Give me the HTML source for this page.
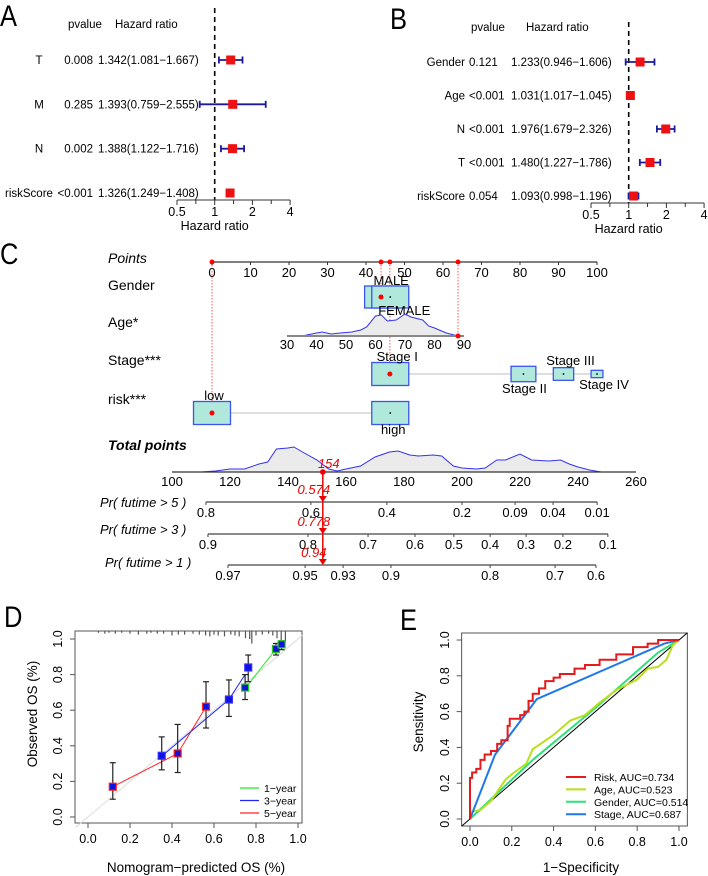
<!DOCTYPE html>
<html><head><meta charset="utf-8"><style>
html,body{margin:0;padding:0;background:#fff;}
svg{display:block;font-family:"Liberation Sans",sans-serif;}
</style></head><body>
<svg id="fig" width="708" height="876" viewBox="0 0 708 876" xmlns="http://www.w3.org/2000/svg"></svg>
<script>
// ---------- DATA ----------
const forestAVars=['T','M','N','riskScore'];
const forestAP=['0.008','0.285','0.002','<0.001'];
const forestAHR=[1.342,1.393,1.388,1.326];
const forestALo=[1.081,0.759,1.122,1.249];
const forestAHi=[1.667,2.555,1.716,1.408];
const forestBVars=['Gender','Age','N','T','riskScore'];
const forestBP=['0.121','<0.001','<0.001','<0.001','0.054'];
const forestBHR=[1.233,1.031,1.976,1.480,1.093];
const forestBLo=[0.946,1.017,1.679,1.227,0.998];
const forestBHi=[1.606,1.045,2.326,1.786,1.196];
const forestTicks=[0.5,1,2,4];
const forestMinor=[0.707,1.414,2.828];

const pointsTicks=[0,10,20,30,40,50,60,70,80,90,100];
const genderLevels=['MALE','FEMALE'];
const genderPoints=[44.2,46.3];
const genderFreq=[0.95,1];
const ageTicks=[30,40,50,60,70,80,90];
const ageDensAge=[30,35,40,42,45,48,52,55,57,60,62,64,67,70,72,76,78,80,84,88];
const ageDensH=[0,0,3,4,2,3,4,6,9,20,21,15,16,22,19,16,10,8,3,0];
const stageLevels=['Stage I','Stage II','Stage III','Stage IV'];
const stagePoints=[46.3,80.9,91.3,100];
const stageFreq=[1,0.67,0.55,0.32];
const riskLevels=['low','high'];
const riskPoints=[0,46.3];
const riskFreq=[1,1];
const selectedPoints=[0,43.9,46.2,63.9];
const totalTicks=[100,120,140,160,180,200,220,240,260];
const totDensX=[110,115,120,125,130,133,136,140,142,145,150,154,157,160,165,170,175,178,182,185,190,193,197,200,205,208,212,215,220,224,230,234,237,240,244,248];
const totDensH=[0,1,3,3,8,10,23,24,25,20,12,3,1,3,6,15,20,21,17,16,17,16,6,4,3,4,12,12,18,12,11,12,8,5,2,0];
const totalScore=152;
const totalLabel='154';
const pr5Labels=['0.8','0.6','0.4','0.2','0.09','0.04','0.01'];
const pr5At=[111.7,147.9,174.1,200,218.3,231.4,246.6];
const pr3Labels=['0.9','0.8','0.7','0.6','0.5','0.4','0.3','0.2','0.1'];
const pr3At=[112.4,146.9,167.6,183.8,197.2,209.7,222.1,234.8,250.3];
const pr1Labels=['0.97','0.95','0.93','0.9','0.8','0.7','0.6'];
const pr1At=[119.3,145.9,159,175.5,209.7,232.1,246.2];
const prValues=['0.574','0.778','0.94'];

const calPred=[0.118,0.351,0.427,0.562,0.671,0.748,0.763,0.895,0.922];
const calObs=[0.17,0.344,0.357,0.62,0.66,0.727,0.84,0.944,0.97];
const calLo=[0.10,0.265,0.25,0.50,0.565,0.66,0.76,0.91,0.94];
const calHi=[0.305,0.45,0.52,0.76,0.77,0.80,0.91,0.975,0.99];
const calSeries=['5','3','5','5','3','1','3','1','1'];
const line5x=[0.118,0.35,0.427,0.562];
const line5y=[0.17,0.31,0.357,0.62];
const line3x=[0.366,0.671,0.748];
const line3y=[0.357,0.66,0.80];
const line1x=[0.767,0.895,0.922];
const line1y=[0.75,0.944,0.97];
const histPred=[0.05,0.08,0.1,0.13,0.16,0.2,0.24,0.28,0.3,0.33,0.36,0.4,0.43,0.46,0.5,0.53,0.56,0.58,0.6,0.62,0.65,0.68,0.7,0.72,0.75,0.77,0.78,0.8,0.83,0.86,0.88,0.9,0.92,0.94];
const histCount=[2,3,2,3,2,3,4,3,2,3,3,5,4,4,3,4,5,6,4,5,6,4,5,6,8,9,14,5,4,3,5,8,10,12];
const dTicks=[0,0.2,0.4,0.6,0.8,1.0];
const dTickLabels=['0.0','0.2','0.4','0.6','0.8','1.0'];

const riskFPR=[0,0,0.01,0.03,0.05,0.07,0.1,0.13,0.15,0.18,0.19,0.24,0.26,0.28,0.3,0.33,0.36,0.4,0.43,0.5,0.55,0.62,0.7,0.78,0.85,0.9,0.94,1];
const riskTPR=[0,0.17,0.23,0.26,0.28,0.33,0.36,0.38,0.42,0.44,0.52,0.56,0.58,0.6,0.66,0.70,0.73,0.77,0.79,0.81,0.84,0.86,0.89,0.92,0.96,0.98,1,1];
const stageFPR=[0,0.12,0.32,0.93,1];
const stageTPR=[0,0.36,0.67,0.98,1];
const genderFPR=[0,0.3,0.6,0.9,1];
const genderTPR=[0,0.33,0.62,0.93,1];
const ageFPR=[0,0,0.05,0.1,0.17,0.2,0.27,0.3,0.35,0.4,0.48,0.55,0.62,0.7,0.8,0.85,0.9,0.94,0.97,1];
const ageTPR=[0,0.04,0.05,0.1,0.22,0.25,0.31,0.39,0.43,0.47,0.55,0.58,0.65,0.72,0.78,0.84,0.85,0.89,0.97,1];
const rocNames=['Risk, AUC=0.734','Age, AUC=0.523','Gender, AUC=0.514','Stage, AUC=0.687'];
const rocColors=['#e41a1c','#b8e01a','#2ee07a','#1f78e8'];

// ---------- HELPERS ----------
const NS='http://www.w3.org/2000/svg';
const svg=document.getElementById('fig');
function mk(tag,parent){const e=document.createElementNS(NS,tag);(parent||svg).appendChild(e);return e;}
function at(e,o){for(const k in o)e.setAttribute(k,o[k]);return e;}
function tx(parent,x,y,s,o){const e=mk('text',parent);at(e,Object.assign({x:x,y:y},o||{}));e.textContent=s;return e;}
function ln(parent,x1,y1,x2,y2,o){const e=mk('line',parent);at(e,Object.assign({x1:x1,y1:y1,x2:x2,y2:y2},o||{}));return e;}
function grp(parent){return mk('g',parent);}

// ---------- PANEL LETTERS ----------
[['A',0,26],['B',390,29],['C',0,264],['D',4,627],['E',400,630]].forEach(function(p){
  const t=tx(svg,p[1],p[2],p[0],{'font-size':30,transform:'translate('+p[1]+',0) scale(0.85,1) translate('+(-p[1])+',0)'});
  
  
});

// ---------- FOREST PLOTS ----------
function forest(name,cfg){
  const g=grp();
  
  
  const xs=function(v){return cfg.x0+Math.log2(v/0.5)*cfg.unit;};
  const h1=tx(g,cfg.pHeadX,cfg.headY,'pvalue',{'font-size':11.5});
  
  
  const h2=tx(g,cfg.hrHeadX,cfg.headY,'Hazard ratio',{'font-size':11.5});
  
  
  const rl=ln(g,xs(1),cfg.refTop,xs(1),cfg.axisY,{stroke:'#000','stroke-width':1.6,'stroke-dasharray':'5,4'});
  
  
  const n=cfg.vars.length;
  for(let i=0;i<n;i++){
    const y=cfg.row0+i*(cfg.rowN-cfg.row0)/(n-1);
    const r=grp(g);
    
    
    let vt;
    if(cfg.varAnchor==='end'){vt=tx(r,cfg.varX,y+4,cfg.vars[i],{'font-size':11.5,'text-anchor':'end'});}
    else{vt=tx(r,cfg.varX,y+4,cfg.vars[i],{'font-size':11.5,'text-anchor':'middle'});
      const bb=vt.getBBox(); if(bb.x+bb.width>cfg.varMaxRight){vt.setAttribute('text-anchor','start');vt.setAttribute('x',5);}}
    
    
    const pt=tx(r,cfg.pX,y+4,cfg.p[i],{'font-size':11.5,'text-anchor':cfg.pAnchor});
    
    
    const ht=tx(r,cfg.hrX,y+4,cfg.hr[i].toFixed(3)+'('+cfg.lo[i].toFixed(3)+'\u2212'+cfg.hi[i].toFixed(3)+')',{'font-size':11.5});
    
    
    const ci=ln(r,xs(cfg.lo[i]),y,xs(cfg.hi[i]),y,{stroke:'#1a1a9a','stroke-width':1.8});
    
    
    [cfg.lo[i],cfg.hi[i]].forEach(function(v){
      const c=ln(r,xs(v),y-3.5,xs(v),y+3.5,{stroke:'#1a1a9a','stroke-width':1.8});
      
      
    });
    const sq=mk('rect',r);at(sq,{x:xs(cfg.hr[i])-4.5,y:y-4.5,width:9,height:9,fill:'#ee1111'});
    
    
  }
  const ax=grp(g);
  
  
  ln(ax,xs(0.5),cfg.axisY,xs(4),cfg.axisY,{stroke:'#333','stroke-width':1});
  forestTicks.forEach(function(v){
    ln(ax,xs(v),cfg.axisY,xs(v),cfg.axisY+5,{stroke:'#333'});
    const t=tx(ax,xs(v),cfg.axisY+16,String(v),{'font-size':12.5,'text-anchor':'middle'});
    
    
  });
  forestMinor.forEach(function(v){ln(ax,xs(v),cfg.axisY,xs(v),cfg.axisY+4,{stroke:'#333'});});
  const tt=tx(g,xs(1),cfg.axisY+30,'Hazard ratio',{'font-size':12.5,'text-anchor':'middle'});
  
  
}
forest('forest-plot-a',{vars:forestAVars,p:forestAP,hr:forestAHR,lo:forestALo,hi:forestAHi,x0:177,unit:37.7,axisY:200,refTop:8,row0:60,rowN:193,headY:28,pHeadX:68,hrHeadX:115,varX:39,varAnchor:'middle',varMaxRight:56,pX:93,pAnchor:'end',hrX:98});
forest('forest-plot-b',{vars:forestBVars,p:forestBP,hr:forestBHR,lo:forestBLo,hi:forestBHi,x0:591,unit:37.7,axisY:203,refTop:22,row0:62,rowN:196,headY:31,pHeadX:471,hrHeadX:526,varX:465,varAnchor:'end',varMaxRight:465,pX:469,pAnchor:'start',hrX:511});

// ---------- NOMOGRAM ----------
const nom=grp();


const ptsX=function(v){return 212+v*3.85;};
const ageX=function(a){return 287+(a-30)*2.95;};
const totX=function(v){return 172+(v-100)*2.9;};
const BOXF='#b0e8dc',BOXS='#3b55ee';

function rowLabel(s,y,name,italic,bold){
  const t=tx(nom,108,y,s,{'font-size':14,'font-style':italic?'italic':'normal','font-weight':bold?'bold':'normal'});
  
  
  return t;
}
rowLabel('Points',263,'points-label',true,false);
rowLabel('Gender',290,'gender-label');
rowLabel('Age*',327,'age-label');
rowLabel('Stage***',365,'stage-label');
rowLabel('risk***',404,'risk-label');
rowLabel('Total points',450,'total-points-label',true,true);

const guides=grp(nom);


const guideBottom=[413,297,374,336];
selectedPoints.forEach(function(v,i){
  ln(guides,ptsX(v),262,ptsX(v),guideBottom[i],{stroke:'#ff5555','stroke-width':1,'stroke-dasharray':'1.5,1.5'});
});

const pAx=grp(nom);


ln(pAx,ptsX(0),262,ptsX(100),262,{stroke:'#333','stroke-width':1.2});
pointsTicks.forEach(function(v){
  ln(pAx,ptsX(v),262,ptsX(v),265,{stroke:'#333'});
  const t=tx(pAx,ptsX(v),277,String(v),{'font-size':13,'text-anchor':'middle'});
  
  
});
selectedPoints.forEach(function(v){
  const c=mk('circle',pAx);at(c,{cx:ptsX(v),cy:262,r:2.5,fill:'#ff0000'});
  
  
});

function catBox(parent,cx,cy,w,h,name){
  const r=mk('rect',parent);at(r,{x:cx-w/2,y:cy-h/2,width:w,height:h,fill:BOXF,stroke:BOXS,'stroke-width':1.3});
  
  
  const d=mk('circle',parent);at(d,{cx:cx,cy:cy,r:0.9,fill:'#000'});
  return r;
}
const gG=grp(nom);


genderLevels.forEach(function(l,i){
  catBox(gG,ptsX(genderPoints[i]),297,genderFreq[i]*37,22,'gender-box-'+l.toLowerCase());
});
const mL=tx(gG,ptsX(genderPoints[0])+9,285,'MALE',{'font-size':13,'text-anchor':'middle'});


const fL=tx(gG,ptsX(genderPoints[1])+14,315,'FEMALE',{'font-size':13,'text-anchor':'middle'});


const gDot=mk('circle',gG);at(gDot,{cx:ptsX(selectedPoints[1]),cy:297,r:2.5,fill:'#ff0000'});



const aG=grp(nom);


let ad='M'+ageX(ageDensAge[0])+',336';
ageDensAge.forEach(function(a,i){ad+=' L'+ageX(a)+','+(336-ageDensH[i]);});
ad+=' L'+ageX(ageDensAge[ageDensAge.length-1])+',336 Z';
const aDen=mk('path',aG);at(aDen,{d:ad,fill:'#ebebeb',stroke:'#3333ee','stroke-width':1});


ln(aG,ageX(30),336,ageX(90),336,{stroke:'#888','stroke-width':2});
ageTicks.forEach(function(v){
  const t=tx(aG,ageX(v),349,String(v),{'font-size':13,'text-anchor':'middle'});
  
  
});
const aDot=mk('circle',aG);at(aDot,{cx:ptsX(selectedPoints[3]),cy:336,r:2.5,fill:'#ff0000'});



const sG=grp(nom);


ln(sG,ptsX(stagePoints[0]),374,ptsX(stagePoints[3]),374,{stroke:'#cccccc','stroke-width':1.2});
const stageLabOff=[[7,-13],[1,19],[7,-9],[7,15]];
stageLevels.forEach(function(l,i){
  const w=stageFreq[i]*37,h=stageFreq[i]*23;
  catBox(sG,ptsX(stagePoints[i]),374,w,Math.max(h,7),'stage-box-'+(i+1));
  const t=tx(sG,ptsX(stagePoints[i])+stageLabOff[i][0],374+stageLabOff[i][1],l,{'font-size':13,'text-anchor':'middle'});
  
  
});
const sDot=mk('circle',sG);at(sDot,{cx:ptsX(selectedPoints[2]),cy:374,r:2.5,fill:'#ff0000'});



const rG=grp(nom);


ln(rG,ptsX(riskPoints[0]),413,ptsX(riskPoints[1]),413,{stroke:'#cccccc','stroke-width':1.2});
riskLevels.forEach(function(l,i){
  catBox(rG,ptsX(riskPoints[i]),413,riskFreq[i]*37,23,'risk-box-'+l);
});
const lowL=tx(rG,ptsX(riskPoints[0])+2,400,'low',{'font-size':13,'text-anchor':'middle'});


const highL=tx(rG,ptsX(riskPoints[1])+3,434,'high',{'font-size':13,'text-anchor':'middle'});


const rDot=mk('circle',rG);at(rDot,{cx:ptsX(selectedPoints[0]),cy:413,r:2.5,fill:'#ff0000'});



const tG=grp(nom);


let td='M'+totX(totDensX[0])+',472';
totDensX.forEach(function(v,i){td+=' L'+totX(v)+','+(472-totDensH[i]);});
td+=' L'+totX(totDensX[totDensX.length-1])+',472 Z';
const tDen=mk('path',tG);at(tDen,{d:td,fill:'#ebebeb',stroke:'#3333ee','stroke-width':1});


ln(tG,totX(100),472,totX(260),472,{stroke:'#333','stroke-width':1.2});
totalTicks.forEach(function(v){
  const t=tx(tG,totX(v),486,String(v),{'font-size':13,'text-anchor':'middle'});
  
  
});

function prAxis(label,labX,labY,axY,ticks,labels,name){
  const g=grp(nom);
  
  
  const l=tx(g,labX,labY,label,{'font-size':13,'font-style':'italic'});
  
  
  ln(g,totX(ticks[0]),axY,totX(ticks[ticks.length-1]),axY,{stroke:'#444','stroke-width':1.2});
  ticks.forEach(function(v,i){
    ln(g,totX(v),axY,totX(v),axY+3,{stroke:'#444'});
    const t=tx(g,totX(v),axY+15,labels[i],{'font-size':13,'text-anchor':'middle'});
    
    
  });
}
prAxis('Pr( futime > 5 )',100,507,502,pr5At,pr5Labels,'pr-5-year-axis');
prAxis('Pr( futime > 3 )',100,534,534,pr3At,pr3Labels,'pr-3-year-axis');
prAxis('Pr( futime > 1 )',105,567,565,pr1At,pr1Labels,'pr-1-year-axis');

const redG=grp(nom);


const tx0=totX(totalScore);
ln(redG,tx0,472,tx0,563,{stroke:'#ee0000','stroke-width':1.5});
const tdot=mk('circle',redG);at(tdot,{cx:tx0,cy:472,r:2.8,fill:'#ee0000'});
const tlab=tx(redG,tx0+6,468,totalLabel,{'font-size':13,'font-style':'italic',fill:'#ee0000','text-anchor':'middle'});


[502,534,565].forEach(function(y,i){
  const tri=mk('path',redG);at(tri,{d:'M'+(tx0-4)+','+(y-6)+' L'+(tx0+4)+','+(y-6)+' L'+tx0+','+y+' Z',fill:'#ee0000'});
  
  
  const pl=tx(redG,tx0-9,y-8,prValues[i],{'font-size':13,'font-style':'italic',fill:'#ee0000','text-anchor':'middle'});
  
  
});

// ---------- PANEL D ----------
const D=grp();


const xD=function(v){return 88+v*210;};
const yD=function(v){return 817-v*178;};
const dBox=mk('rect',D);at(dBox,{x:75,y:631,width:227,height:192,fill:'none',stroke:'#555','stroke-width':1});


const diag=ln(D,xD(-0.06),yD(-0.06),xD(1.02),yD(1.02),{stroke:'#dddddd','stroke-width':1});


const hist=grp(D);


histPred.forEach(function(p,i){ln(hist,xD(p),631,xD(p),631+histCount[i]*0.9,{stroke:'#555','stroke-width':1.2});});
function dLine(xsA,ysA,col,name){
  let d='';xsA.forEach(function(v,i){d+=(i?' L':'M')+xD(v)+','+yD(ysA[i]);});
  const p=mk('path',D);at(p,{d:d,fill:'none',stroke:col,'stroke-width':1});
  
  
}
dLine(line5x,line5y,'#ff2222','line-5-year');
dLine(line3x,line3y,'#2222ff','line-3-year');
dLine(line1x,line1y,'#22ee22','line-1-year');
const serCol={'1':'#22cc22','3':'#3333ff','5':'#ff2222'};
calPred.forEach(function(p,i){
  const g=grp(D);
  
  
  const x=xD(p);
  ln(g,x,yD(calLo[i]),x,yD(calHi[i]),{stroke:'#222','stroke-width':1.2});
  ln(g,x-3,yD(calLo[i]),x+3,yD(calLo[i]),{stroke:'#222','stroke-width':1.2});
  ln(g,x-3,yD(calHi[i]),x+3,yD(calHi[i]),{stroke:'#222','stroke-width':1.2});
  const s=mk('rect',g);at(s,{x:x-3.5,y:yD(calObs[i])-3.5,width:7,height:7,fill:'#1111dd',stroke:serCol[calSeries[i]],'stroke-width':1.2});
});
dTicks.forEach(function(v,i){
  ln(D,xD(v),823,xD(v),828,{stroke:'#555'});
  const t=tx(D,xD(v),843,dTickLabels[i],{'font-size':12.5,'text-anchor':'middle'});
  
  
  ln(D,75,yD(v),70,yD(v),{stroke:'#555'});
  const ty=tx(D,0,0,dTickLabels[i],{'font-size':12.5,'text-anchor':'middle',transform:'translate(62,'+yD(v)+') rotate(-90)'});
  
  
});
const dxT=tx(D,196,872,'Nomogram\u2212predicted OS (%)',{'font-size':13.5,'text-anchor':'middle'});


const dyT=tx(D,0,0,'Observed OS (%)',{'font-size':13.5,'text-anchor':'middle',transform:'translate(37,714) rotate(-90)'});


const dLeg=grp(D);


[['1-year','#22ee22'],['3-year','#2222ff'],['5-year','#ff2222']].forEach(function(e,i){
  const y=788+i*12.5;
  const li=grp(dLeg);
  
  
  ln(li,240,y,259,y,{stroke:e[1],'stroke-width':1.3});
  tx(li,264,y+4,e[0].replace('-','\u2212'),{'font-size':10.5});
});

// ---------- PANEL E ----------
const E=grp();


const xE=function(v){return 470+v*209;};
const yE=function(v){return 819-v*179;};
const eBox=mk('rect',E);at(eBox,{x:xE(-0.04),y:633,width:xE(1.04)-xE(-0.04),height:193,fill:'none',stroke:'#555','stroke-width':1});


const eDiag=ln(E,xE(-0.04),yE(-0.04),xE(1.04),yE(1.04),{stroke:'#000','stroke-width':1});


function roc(xsA,ysA,col,name,step){
  let d='';
  xsA.forEach(function(v,i){
    if(i===0){d+='M'+xE(v)+','+yE(ysA[i]);}
    else if(step){d+=' L'+xE(xsA[i-1])+','+yE(ysA[i])+' L'+xE(v)+','+yE(ysA[i]);}
    else{d+=' L'+xE(v)+','+yE(ysA[i]);}
  });
  const p=mk('path',E);at(p,{d:d,fill:'none',stroke:col,'stroke-width':2});
  
  
}
roc(genderFPR,genderTPR,rocColors[2],'roc-gender',false);
roc(ageFPR,ageTPR,rocColors[1],'roc-age',false);
roc(stageFPR,stageTPR,rocColors[3],'roc-stage',false);
roc(riskFPR,riskTPR,rocColors[0],'roc-risk',true);
dTicks.forEach(function(v,i){
  ln(E,xE(v),826,xE(v),831,{stroke:'#555'});
  const t=tx(E,xE(v),846,dTickLabels[i],{'font-size':12.5,'text-anchor':'middle'});
  
  
  ln(E,xE(-0.04),yE(v),xE(-0.04)-5,yE(v),{stroke:'#555'});
  const ty=tx(E,0,0,dTickLabels[i],{'font-size':12.5,'text-anchor':'middle',transform:'translate(449,'+yE(v)+') rotate(-90)'});
  
  
});
const exT=tx(E,581,872,'1\u2212Specificity',{'font-size':13.5,'text-anchor':'middle'});


const eyT=tx(E,0,0,'Sensitivity',{'font-size':13.5,'text-anchor':'middle',transform:'translate(423,722) rotate(-90)'});


const eLeg=grp(E);


rocNames.forEach(function(n,i){
  const y=777+i*12.4;
  const li=grp(eLeg);
  
  
  ln(li,566,y,586,y,{stroke:rocColors[i],'stroke-width':2});
  tx(li,594,y+4,n,{'font-size':10.5});
});
</script>
</body></html>
